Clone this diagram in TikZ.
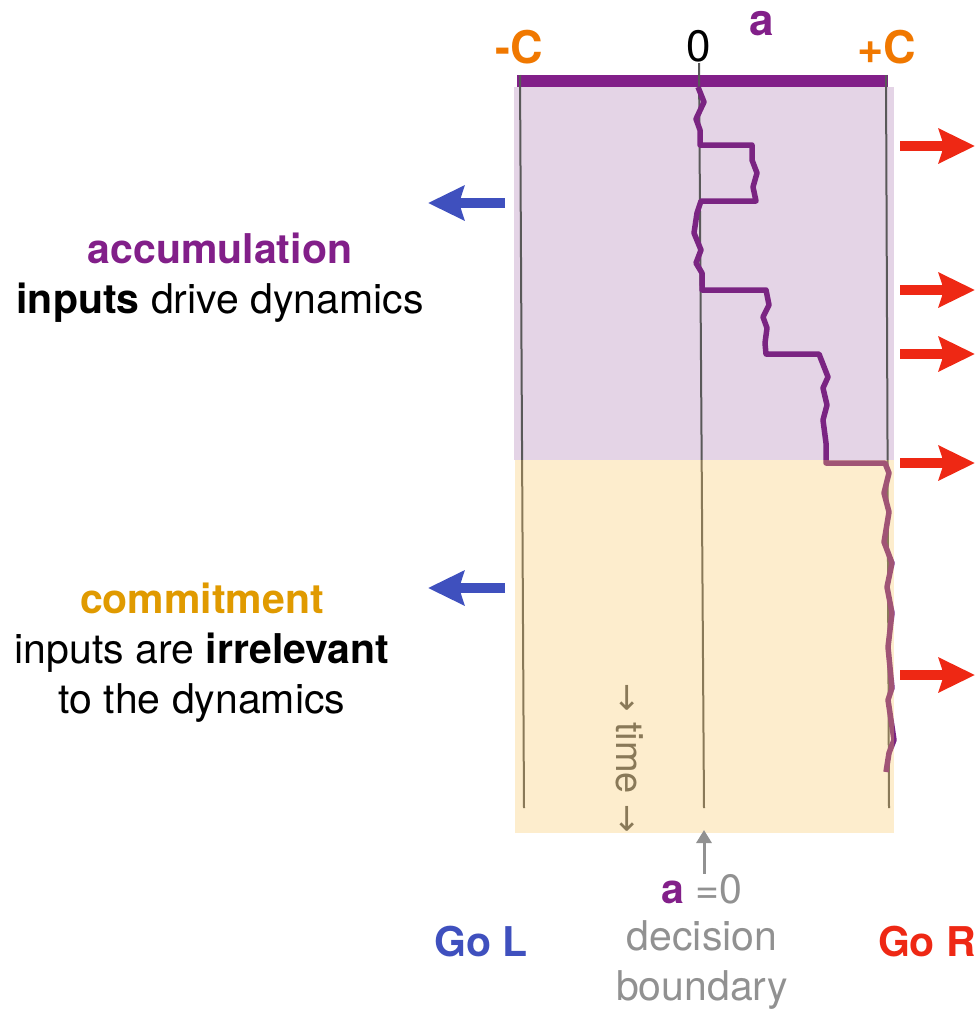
\documentclass[tikz,border=0pt]{standalone}
\usepackage{fontspec}
\setmainfont{TeX Gyre Heros}
\newfontfamily\arrowfont{DejaVu Sans}
\definecolor{barpurple}{RGB}{130,31,137}
\definecolor{trajpurple}{RGB}{122,36,130}
\definecolor{accpurple}{RGB}{228,212,230}
\definecolor{comyellow}{RGB}{248,195,88}
\definecolor{comgold}{RGB}{224,154,0}
\definecolor{bndorange}{RGB}{240,120,0}
\definecolor{goleft}{RGB}{63,80,190}
\definecolor{goright}{RGB}{238,40,20}
\definecolor{zerogray}{RGB}{145,145,145}
\usetikzlibrary{arrows.meta,positioning}

\begin{document}
\begin{tikzpicture}[x=1pt, y=-1pt,
  lbl/.style={inner sep=0pt, align=center, font=\fontsize{41}{50}\selectfont},
  toplbl/.style={inner sep=0pt, font=\fontsize{44}{50}\selectfont},
  bnd/.style={line width=2pt, black!65},
  traj/.style={line width=5.5pt, trajpurple, line join=round},
  goarr/.style={line width=10pt, -{Stealth[length=36pt,width=34pt,inset=5pt]}},
  zeroarr/.style={line width=3pt, zerogray, -{Triangle[length=13pt,width=15pt]}}
]
\useasboundingbox (0,0) rectangle (976,1010);

% accumulation region and the a axis
\fill[accpurple] (514,87) rectangle (894,460);
\fill[barpurple] (517,75) rectangle (888,87);
\node[toplbl, text=bndorange, font=\fontsize{45}{50}\selectfont\bfseries] (minusC) at (519,47) {-C};
\node[toplbl] (zero) at (699,46) {0};
\node[toplbl, text=barpurple, font=\fontsize{44}{50}\selectfont\bfseries] (avar) at (762,24) {a};
\node[toplbl, text=bndorange, font=\fontsize{45}{50}\selectfont\bfseries] (plusC) at (887,47) {+C};

% bounds and decision boundary
\draw[bnd] (520,75) -- (524,808);
\draw[bnd] (699,63) -- (704,808);
\draw[bnd] (886,75) -- (889,808);

% time runs downward
\node[lbl, text=black!65, font=\fontsize{38}{44}\selectfont, rotate=-90] (time)
  at (630,758) {{\arrowfont\fontsize{34}{40}\selectfont →} time {\arrowfont\fontsize{34}{40}\selectfont →}};

% the trajectory of a
\draw[traj] (698,87) -- (704,102) -- (696,119) -- (700,130) -- (700,145)
  -- (752,145) -- (752,160) -- (757,173) -- (753,187) -- (756,201)
  -- (701,201) -- (697,213) -- (694,233) -- (701,250) -- (696,263)
  -- (702,273) -- (702,290) -- (766,290) -- (769,305) -- (763,317)
  -- (767,328) -- (765,343) -- (766,354) -- (819,354) -- (828,377)
  -- (823,388) -- (827,405) -- (823,420) -- (826,443) -- (826,463)
  -- (885,463) -- (889,473) -- (884,493) -- (889,512) -- (884,542)
  -- (892,563) -- (887,587) -- (892,613) -- (888,647) -- (892,688)
  -- (888,700) -- (894,740) -- (889,753) -- (886,772);

% commitment region
\fill[comyellow, opacity=0.3] (515,460) rectangle (894,833);

% go right / go left inputs
\foreach \y [count=\i] in {146,290,354,463,675} {
  \coordinate (rin\i) at (900,\y);
  \coordinate (rout\i) at (975,\y);
  \draw[goarr, goright] (rin\i) -- (rout\i);
}
\foreach \y [count=\i] in {203,588} {
  \coordinate (lin\i) at (505,\y);
  \coordinate (lout\i) at (428,\y);
  \draw[goarr, goleft] (lin\i) -- (lout\i);
}

% phase labels
\node[lbl] (acc) at (220,278)
  {\textcolor{barpurple}{\bfseries accumulation}\\\textbf{inputs} drive dynamics};
\node[lbl] (com) at (202,653)
  {\textcolor{comgold}{\bfseries commitment}\\inputs are \textbf{irrelevant}\\to the dynamics};

% decision labels
\node[lbl, text=goleft, font=\fontsize{41}{50}\selectfont\bfseries] (goL) at (481,942) {Go L};
\node[lbl, text=goright, font=\fontsize{41}{50}\selectfont\bfseries] (goR) at (927,942) {Go R};
\node[lbl, text=zerogray] (azero) at (702,889) {\textcolor{barpurple}{\bfseries a} =0};
\node[lbl, text=zerogray] (dec) at (702,965) {decision\\boundary};
\coordinate (zerotip) at (704,830);
\draw[zeroarr] (zerotip |- azero.north) -- (zerotip);
\end{tikzpicture}
\end{document}
